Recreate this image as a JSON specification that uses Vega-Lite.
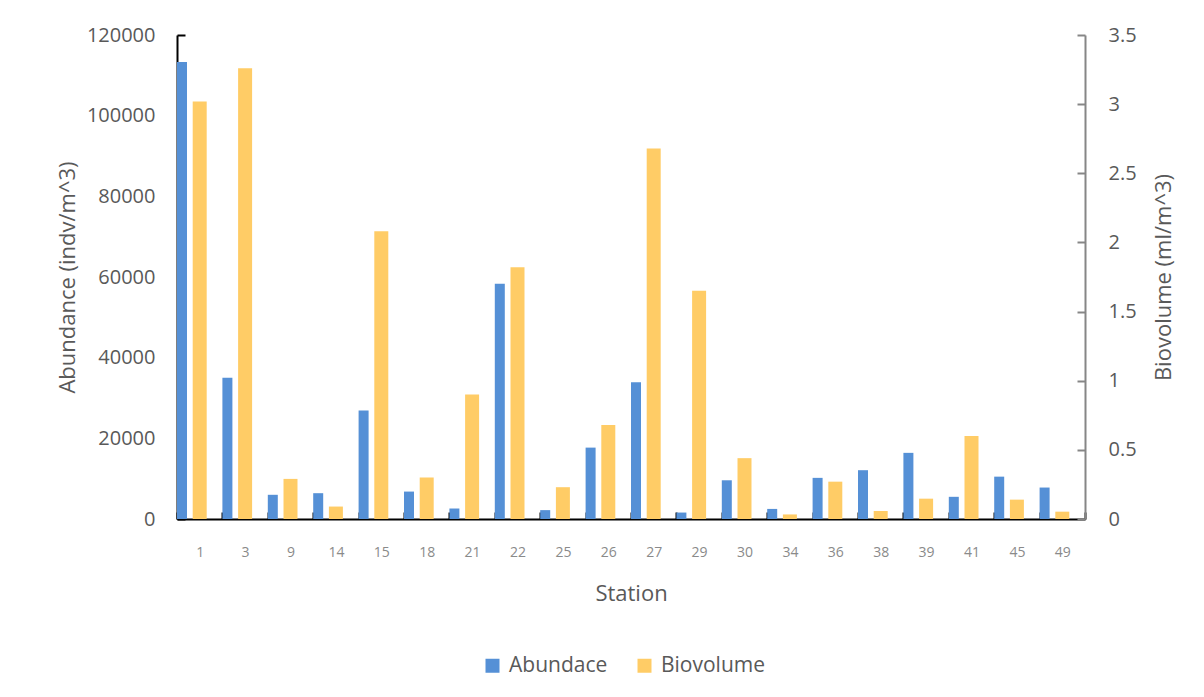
{
  "$schema": "https://vega.github.io/schema/vega-lite/v6.json",
  "width": 908,
  "height": 484,
  "autosize": {"type": "none"},
  "padding": {"left": 177, "top": 35, "right": 119, "bottom": 178},
  "background": "white",
  "config": {
    "view": {"stroke": null},
    "font": "Open Sans",
    "axis": {"grid": false, "labelFont": "Open Sans", "titleFont": "Open Sans", "titleFontWeight": "normal", "labelColor": "#595959", "titleColor": "#595959"},
    "legend": {"labelFont": "Open Sans"}
  },
  "data": {
    "values": [
      {"station": "1", "series": "Abundace", "value": 113300},
      {"station": "3", "series": "Abundace", "value": 35000},
      {"station": "9", "series": "Abundace", "value": 6000},
      {"station": "14", "series": "Abundace", "value": 6400},
      {"station": "15", "series": "Abundace", "value": 26900},
      {"station": "18", "series": "Abundace", "value": 6800},
      {"station": "21", "series": "Abundace", "value": 2600},
      {"station": "22", "series": "Abundace", "value": 58300},
      {"station": "25", "series": "Abundace", "value": 2200},
      {"station": "26", "series": "Abundace", "value": 17700},
      {"station": "27", "series": "Abundace", "value": 33900},
      {"station": "29", "series": "Abundace", "value": 1600},
      {"station": "30", "series": "Abundace", "value": 9600},
      {"station": "34", "series": "Abundace", "value": 2500},
      {"station": "36", "series": "Abundace", "value": 10200},
      {"station": "38", "series": "Abundace", "value": 12100},
      {"station": "39", "series": "Abundace", "value": 16400},
      {"station": "41", "series": "Abundace", "value": 5500},
      {"station": "45", "series": "Abundace", "value": 10500},
      {"station": "49", "series": "Abundace", "value": 7800},
      {"station": "1", "series": "Biovolume", "value": 3.02},
      {"station": "3", "series": "Biovolume", "value": 3.26},
      {"station": "9", "series": "Biovolume", "value": 0.29},
      {"station": "14", "series": "Biovolume", "value": 0.09},
      {"station": "15", "series": "Biovolume", "value": 2.08},
      {"station": "18", "series": "Biovolume", "value": 0.30},
      {"station": "21", "series": "Biovolume", "value": 0.90},
      {"station": "22", "series": "Biovolume", "value": 1.82},
      {"station": "25", "series": "Biovolume", "value": 0.23},
      {"station": "26", "series": "Biovolume", "value": 0.68},
      {"station": "27", "series": "Biovolume", "value": 2.68},
      {"station": "29", "series": "Biovolume", "value": 1.65},
      {"station": "30", "series": "Biovolume", "value": 0.44},
      {"station": "34", "series": "Biovolume", "value": 0.033},
      {"station": "36", "series": "Biovolume", "value": 0.27},
      {"station": "38", "series": "Biovolume", "value": 0.058},
      {"station": "39", "series": "Biovolume", "value": 0.147},
      {"station": "41", "series": "Biovolume", "value": 0.60},
      {"station": "45", "series": "Biovolume", "value": 0.14},
      {"station": "49", "series": "Biovolume", "value": 0.053}
    ]
  },
  "encoding": {
    "x": {
      "field": "station", "type": "ordinal", "sort": null,
      "scale": {"paddingInner": 0, "paddingOuter": 0},
      "axis": {
        "title": "Station", "labelAngle": 0, "labelFontSize": 14, "labelColor": "#8a8a8a",
        "labelPadding": 33, "titleFontSize": 22, "titlePadding": 24,
        "domainColor": "#000000", "domainWidth": 2, "tickColor": "#000000", "tickWidth": 2,
        "tickSize": -7, "tickBand": "extent"
      }
    },
    "xOffset": {
      "field": "series", "type": "nominal",
      "scale": {"domain": ["Abundace", "Biovolume"], "paddingInner": 0.435, "paddingOuter": 0.5, "align": 0}
    },
    "color": {
      "field": "series", "type": "nominal",
      "scale": {"domain": ["Abundace", "Biovolume"], "range": ["#5590D6", "#FFCC66"]},
      "legend": {
        "title": null, "orient": "none", "legendX": 305, "legendY": 620, "direction": "horizontal",
        "symbolType": "square", "symbolSize": 196, "symbolStrokeWidth": 0, "labelFontSize": 21,
        "labelColor": "#595959", "labelOffset": 6, "columnPadding": 26, "padding": 0
      }
    }
  },
  "layer": [
    {
      "transform": [{"filter": "datum.series === 'Abundace'"}],
      "mark": {"type": "bar"},
      "encoding": {
        "y": {
          "field": "value", "type": "quantitative",
          "scale": {"domain": [0, 120000], "nice": false},
          "axis": {
            "orient": "left", "title": "Abundance (indv/m^3)", "values": [0, 20000, 40000, 60000, 80000, 100000, 120000],
            "format": "d", "labelFontSize": 20, "titleFontSize": 22, "labelPadding": 30, "titlePadding": 7,
            "domainColor": "#000000", "domainWidth": 2, "tickColor": "#000000", "tickWidth": 2, "tickSize": -8
          }
        }
      }
    },
    {
      "transform": [{"filter": "datum.series === 'Biovolume'"}],
      "mark": {"type": "bar", "size": 14},
      "encoding": {
        "y": {
          "field": "value", "type": "quantitative",
          "scale": {"domain": [0, 3.5], "nice": false},
          "axis": {
            "orient": "right", "title": "Biovolume (ml/m^3)", "values": [0, 0.5, 1, 1.5, 2, 2.5, 3, 3.5],
            "format": "~g", "labelFontSize": 20, "titleFontSize": 22, "labelPadding": 31, "titlePadding": 17,
            "titleAngle": 270, "titleBaseline": "top",
            "domainColor": "#868686", "domainWidth": 2, "tickColor": "#868686", "tickWidth": 2, "tickSize": -8
          }
        }
      }
    }
  ],
  "resolve": {"scale": {"y": "independent"}}
}
